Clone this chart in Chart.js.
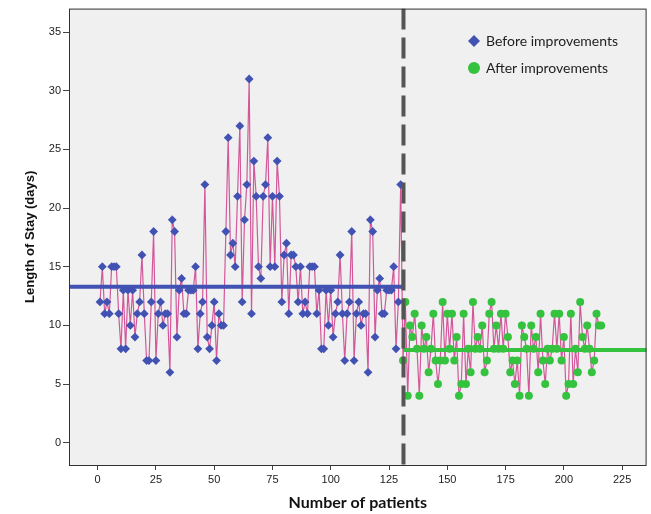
<!DOCTYPE html>
<html>
<head>
<meta charset="utf-8">
<script src="https://cdn.jsdelivr.net/npm/chart.js@4/dist/chart.umd.min.js"></script>
<style>
  html, body { margin:0; padding:0; background:#fff; }
  #wrap { width:651px; height:514px; }
</style>
</head>
<body>
<div id="wrap"><canvas id="losChart" width="651" height="514"></canvas></div>
<script>
// Length of stay per patient
const beforeLOS = [12,15,11,12,11,15,15,15,11,8, 13,8,13,10,13,9,11,12,16,11,
  7,7,12,18,7,11,12,10,11,11, 6,19,18,9,13,14,11,11,13,13,
  13,15,8,11,12,22,9,8,10,12, 7,11,10,10,18,26,16,17,15,21,
  27,12,19,22,31,11,24,21,15,14, 21,22,26,15,21,15,24,21,12,16,
  17,11,16,16,15,12,15,11,12,11, 15,15,15,11,13,8,8,13,10,13,
  9,11,12,16,11,7,11,12,18,7, 11,12,10,11,11,6,19,18,9,13,
  14,11,11,13,13,13,15,8,12,22];
const afterLOS = [7,12,4,10,9,11,8,4,10,8, 9,6,8,11,7,5,7,12,7,11,
  8,11,7,9,4,5,11,5,8,6, 12,8,9,8,10,6,7,11,12,8,
  10,8,11,8,11,9,6,7,5,7, 4,10,9,8,4,10,8,9,6,11,
  7,5,8,7,8,11,8,11,7,9, 4,5,11,5,8,6,12,9,8,10,
  8,6,7,11,10,10];
const beforeMean = 13.3;
const afterMean = 7.9;
const changeAt = 131.2;        // patient number where the dashed line sits
const xTicks = [0,25,50,75,100,125,150,175,200,225];
const yTicks = [0,5,10,15,20,25,30,35];
const xRange = [-12.3, 235.5];
const yRange = [-1.9, 37];

const beforePts = beforeLOS.map((v,i) => ({x:i+1, y:v}));
const afterPts = afterLOS.map((v,i) => ({x:beforeLOS.length+i+1, y:v}));
const allPts = beforePts.concat(afterPts);

const BLUE = '#4152b3', GREEN = '#34c23f', PINK = '#d2589a';

const frame = {
  id:'frame',
  beforeDatasetsDraw(chart){
    const {ctx, chartArea:a} = chart;
    ctx.save();
    ctx.fillStyle = '#f0f0f0';
    ctx.fillRect(a.left, a.top, a.right-a.left, a.bottom-a.top);
    ctx.restore();
  },
  afterDraw(chart){
    const {ctx, chartArea:a} = chart;
    ctx.save();
    ctx.strokeStyle = '#333';
    ctx.lineWidth = 1;
    ctx.strokeRect(a.left+0.5, a.top+0.5, a.right-a.left-1, a.bottom-a.top);
    // axis titles
    ctx.fillStyle = '#111';
    ctx.textAlign = 'center';
    ctx.textBaseline = 'middle';
    ctx.font = 'bold 16px Lato';
    ctx.fillText('Number of patients', (a.left+a.right)/2, 503);
    ctx.save();
    ctx.translate(30, (a.top+a.bottom)/2);
    ctx.rotate(-Math.PI/2);
    ctx.font = 'bold 13px "Liberation Sans"';
    ctx.fillText('Length of Stay (days)', 0, 0);
    ctx.restore();
    // legend
    ctx.font = '14px Lato';
    ctx.textAlign = 'left';
    ctx.fillStyle = '#222';
    ctx.fillText('Before improvements', 486, 41);
    ctx.fillText('After improvements', 486, 68);
    ctx.fillStyle = BLUE;
    ctx.beginPath();
    ctx.moveTo(474, 35); ctx.lineTo(480, 41); ctx.lineTo(474, 47); ctx.lineTo(468, 41);
    ctx.closePath(); ctx.fill();
    ctx.fillStyle = GREEN;
    ctx.beginPath(); ctx.arc(474, 68, 6, 0, Math.PI*2); ctx.fill();
    ctx.restore();
  }
};

const ctx = document.getElementById('losChart').getContext('2d');
new Chart(ctx, {
  type:'scatter',
  data:{datasets:[
    {label:'trace', data:allPts, showLine:true, borderColor:PINK, borderWidth:1.2, pointRadius:0, order:4},
    {label:'mean before', data:[{x:xRange[0],y:beforeMean},{x:changeAt,y:beforeMean}], showLine:true, borderColor:BLUE, borderWidth:4, pointRadius:0, order:3},
    {label:'mean after', data:[{x:changeAt,y:afterMean},{x:xRange[1],y:afterMean}], showLine:true, borderColor:GREEN, borderWidth:4, pointRadius:0, order:3},
    {label:'Before improvements', data:beforePts, pointStyle:'rectRot', pointRadius:4.4, backgroundColor:BLUE, borderWidth:0, order:2},
    {label:'After improvements', data:afterPts, pointStyle:'circle', pointRadius:4, backgroundColor:GREEN, borderWidth:0, order:2},
    {label:'change', data:[{x:changeAt,y:yRange[1]},{x:changeAt,y:yRange[0]}], showLine:true, borderColor:'#555', borderWidth:4, borderDash:[21,8], pointRadius:0, order:1}
  ]},
  options:{
    responsive:false,
    animation:false,
    layout:{padding:{top:7, right:3, left:0, bottom:0}},
    plugins:{legend:{display:false}, tooltip:{enabled:false}},
    scales:{
      x:{
        type:'linear', min:xRange[0], max:xRange[1],
        afterBuildTicks(s){ s.ticks = xTicks.map(v => ({value:v})); },
        afterFit(s){ s.height = 49; },
        grid:{drawOnChartArea:false, drawTicks:true, tickLength:5, color:'#444'},
        border:{display:false},
        ticks:{color:'#222', font:{family:'Liberation Sans', size:11}, padding:3, maxRotation:0}
      },
      y:{
        type:'linear', min:yRange[0], max:yRange[1],
        afterBuildTicks(s){ s.ticks = yTicks.map(v => ({value:v})); },
        afterFit(s){ s.width = 69; },
        grid:{drawOnChartArea:false, drawTicks:true, tickLength:6, color:'#444'},
        border:{display:false},
        ticks:{color:'#222', font:{family:'Liberation Sans', size:11}, padding:2}
      }
    }
  },
  plugins:[frame]
});
</script>
</body>
</html>
